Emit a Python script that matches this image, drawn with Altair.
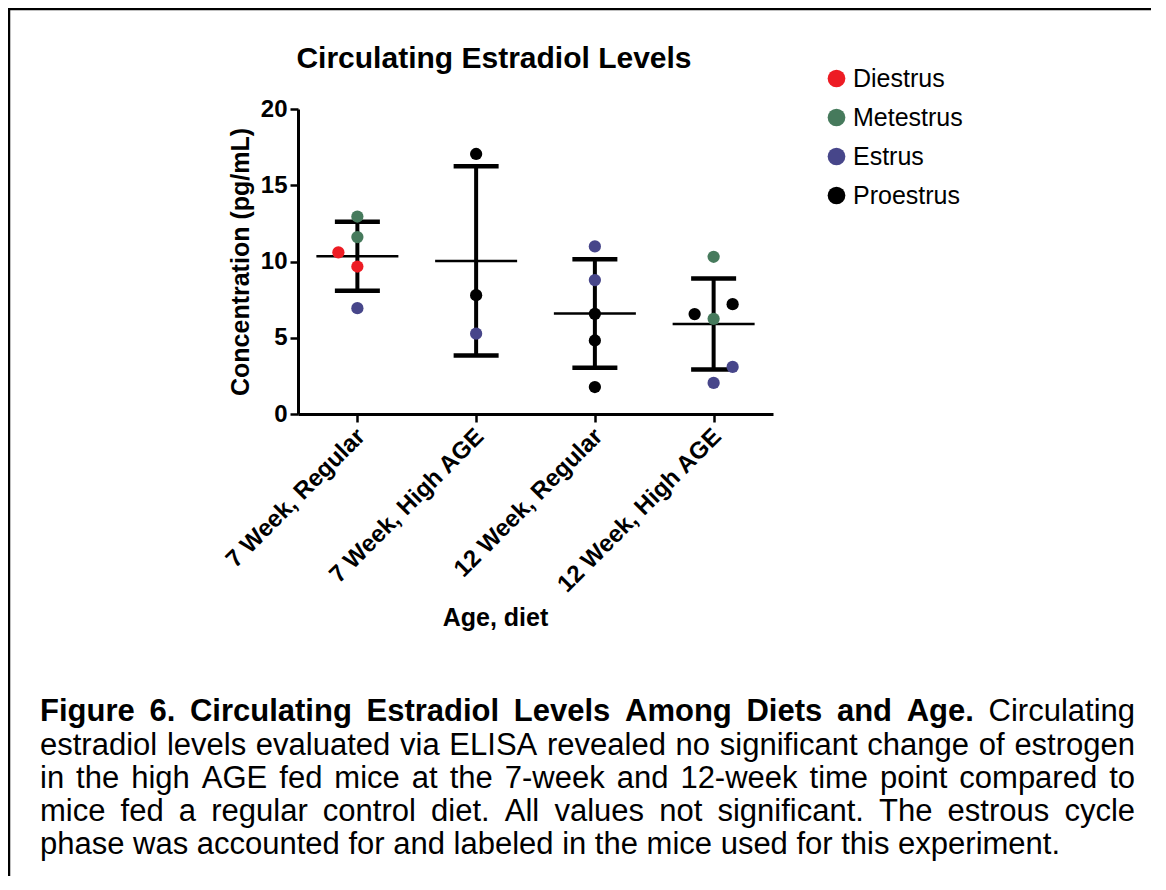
import json
import altair as alt
import pandas as pd

# ---------------- data ----------------
groups = ["7 Week, Regular", "7 Week, High AGE", "12 Week, Regular", "12 Week, High AGE"]
phases = ["Diestrus", "Metestrus", "Estrus", "Proestrus"]
phase_colors = ["#ED1C24", "#467A5C", "#47468A", "#000000"]

point_group = ["7 Week, Regular"] * 5 + ["7 Week, High AGE"] * 3 + ["12 Week, Regular"] * 5 + ["12 Week, High AGE"] * 6
point_value = [12.95, 11.6, 10.6, 9.67, 6.94,
               17.05, 7.79, 5.27,
               10.99, 8.78, 6.57, 4.82, 1.77,
               10.31, 6.55, 7.2, 6.24, 3.09, 2.04]
point_phase = ["Metestrus", "Metestrus", "Diestrus", "Diestrus", "Estrus",
               "Proestrus", "Proestrus", "Estrus",
               "Estrus", "Estrus", "Proestrus", "Proestrus", "Proestrus",
               "Metestrus", "Proestrus", "Proestrus", "Metestrus", "Estrus", "Estrus"]
point_jitter = [0, 0, -1, 0, 0,
                0, 0, 0,
                0, 0, 0, 0, 0,
                0, -1, 1, 0, 1, 0]

chart_title = "Circulating Estradiol Levels"
x_title = "Age, diet"
y_title = "Concentration (pg/mL)"
y_ticks = [0, 5, 10, 15, 20]

caption_bold = "Figure 6. Circulating Estradiol Levels Among Diets and Age."
caption_first_tail = "Circulating"
caption_lines = [
    "estradiol levels evaluated via ELISA revealed no significant change of estrogen",
    "in the high AGE fed mice at the 7-week and 12-week time point compared to",
    "mice fed a regular control diet. All values not significant. The estrous cycle",
    "phase was accounted for and labeled in the mice used for this experiment.",
]

df = pd.DataFrame({
    "group": point_group,
    "value": point_value,
    "phase": point_phase,
    "jitter": point_jitter,
})

FONT = "Liberation Sans"
groups_js = json.dumps(groups)

# ---------------- caption layout (justified, Arial metrics) ----------------
REG = dict(zip("abcdefghijklmnopqrstuvwxyz",
               [556, 556, 500, 556, 556, 278, 556, 556, 222, 222, 500, 222, 833,
                556, 556, 556, 556, 333, 500, 278, 556, 500, 722, 500, 500, 500]))
REG.update(dict(zip("ABCDEFGHIJKLMNOPQRSTUVWXYZ",
                    [667, 667, 722, 722, 667, 611, 778, 722, 278, 500, 667, 556, 833,
                     722, 778, 667, 778, 722, 667, 611, 722, 667, 944, 667, 667, 611])))
BOLD = dict(zip("abcdefghijklmnopqrstuvwxyz",
                [556, 611, 556, 611, 556, 333, 611, 611, 278, 278, 556, 278, 889,
                 611, 611, 611, 611, 389, 556, 333, 611, 556, 778, 556, 556, 500]))
BOLD.update(dict(zip("ABCDEFGHIJKLMNOPQRSTUVWXYZ",
                     [722, 722, 722, 722, 667, 611, 778, 722, 278, 556, 722, 611, 833,
                      722, 778, 667, 778, 722, 667, 611, 722, 667, 944, 667, 667, 611])))
for tbl in (REG, BOLD):
    for ch in "0123456789":
        tbl[ch] = 556
    tbl.update({" ": 278, ".": 278, ",": 278, "-": 333})

CAP_SIZE = 31
CAP_LEFT = 40 - 298      # relative to the plot origin
CAP_RIGHT = 1135 - 298
CAP_BASE = [612, 646, 679, 712, 745]


def word_width(word, bold):
    tbl = BOLD if bold else REG
    return sum(tbl.get(c, 556) for c in word) / 1000.0 * CAP_SIZE


def layout_line(words, y, justify):
    # words: list of (text, bold)
    widths = [word_width(w, b) for w, b in words]
    if justify and len(words) > 1:
        gap = (CAP_RIGHT - CAP_LEFT - sum(widths)) / (len(words) - 1)
    else:
        gap = 0.278 * CAP_SIZE
    rows, x = [], CAP_LEFT
    for (w, b), wd in zip(words, widths):
        rows.append({"word": w, "bold": b, "px": x, "py": y})
        x += wd + gap
    return rows


cap_rows = []
first = [(w, True) for w in caption_bold.split()] + [(caption_first_tail, False)]
cap_rows += layout_line(first, CAP_BASE[0], True)
for i, line in enumerate(caption_lines):
    last = i == len(caption_lines) - 1
    cap_rows += layout_line([(w, False) for w in line.split()], CAP_BASE[i + 1], not last)
cap_df = pd.DataFrame(cap_rows)

# ---------------- axes ----------------
x_axis = alt.Axis(
    values=[1, 2, 3, 4],
    labelExpr=f"{groups_js}[datum.value - 1]",
    labelAngle=-45,
    labelAlign="right",
    labelBaseline="top",
    labelFont=FONT,
    labelFontSize=24,
    labelFontWeight="bold",
    labelColor="black",
    labelPadding=2,
    labelOffset=-5,
    labelLimit=400,
    labelOverlap=False,
    title=x_title,
    titleFont=FONT,
    titleFontSize=25,
    titleFontWeight="bold",
    titleColor="black",
    titleX=197,
    titleY=211,
    titleAlign="center",
    titleBaseline="alphabetic",
    domainColor="black",
    domainWidth=3,
    tickColor="black",
    tickWidth=2.5,
    tickSize=8,
    grid=False,
)

y_axis = alt.Axis(
    values=y_ticks,
    labelFont=FONT,
    labelFontSize=24,
    labelFontWeight="bold",
    labelColor="black",
    labelPadding=3,
    title=y_title,
    titleFont=FONT,
    titleFontSize=25,
    titleFontWeight="bold",
    titleColor="black",
    titleX=-50,
    titleY=152.5,
    titleAngle=270,
    titleAlign="center",
    titleBaseline="alphabetic",
    domainColor="black",
    domainWidth=3,
    tickColor="black",
    tickWidth=2.5,
    tickSize=8,
    grid=False,
)

x_scale = alt.Scale(domain=[0.5, 4.5], nice=False, zero=False)
y_scale = alt.Scale(domain=[0, 20], nice=False)

base = alt.Chart(df).transform_calculate(
    gidx=f"indexof({groups_js}, datum.group) + 1"
)

stats = base.transform_aggregate(
    mean="mean(value)", sd="stdev(value)", groupby=["gidx"]
).transform_calculate(
    lo="datum.mean - datum.sd", hi="datum.mean + datum.sd"
)

err_rule = stats.mark_rule(color="black", strokeWidth=4, opacity=1).encode(
    x=alt.X("gidx:Q", scale=x_scale, axis=x_axis),
    y=alt.Y("lo:Q", scale=y_scale, axis=y_axis),
    y2="hi:Q",
)
cap_hi = stats.mark_tick(color="black", orient="horizontal", size=45, thickness=4.5, opacity=1).encode(
    x=alt.X("gidx:Q", scale=x_scale), y=alt.Y("hi:Q", scale=y_scale)
)
cap_lo = stats.mark_tick(color="black", orient="horizontal", size=45, thickness=4.5, opacity=1).encode(
    x=alt.X("gidx:Q", scale=x_scale), y=alt.Y("lo:Q", scale=y_scale)
)
mean_tick = stats.mark_tick(color="black", orient="horizontal", size=82, thickness=2.5, opacity=1).encode(
    x=alt.X("gidx:Q", scale=x_scale), y=alt.Y("mean:Q", scale=y_scale)
)

points = base.transform_calculate(
    xpos="datum.gidx + datum.jitter * 0.16"
).mark_circle(size=150, opacity=1).encode(
    x=alt.X("xpos:Q", scale=x_scale),
    y=alt.Y("value:Q", scale=y_scale),
    color=alt.Color(
        "phase:N",
        scale=alt.Scale(domain=phases, range=phase_colors),
        legend=alt.Legend(
            title=None,
            orient="none",
            legendX=526,
            legendY=-43,
            padding=0,
            symbolType="circle",
            symbolSize=314,
            symbolStrokeWidth=0,
            symbolOpacity=1,
            labelFont=FONT,
            labelFontSize=25,
            labelColor="black",
            labelOffset=4,
            rowPadding=13,
            labelLimit=300,
        ),
    ),
)

one = alt.Data(values=[{"k": 1}])

title_layer = alt.Chart(one).mark_text(
    text=chart_title, font=FONT, fontSize=30, fontWeight="bold", align="center",
    baseline="alphabetic", color="black",
).encode(x=alt.value(196), y=alt.value(-41))


def caption_layer(bold):
    return alt.Chart(cap_df).transform_filter(
        "datum.bold" if bold else "!datum.bold"
    ).mark_text(
        font=FONT, fontSize=CAP_SIZE, fontWeight="bold" if bold else "normal",
        align="left", baseline="alphabetic", color="black",
    ).encode(
        x=alt.X("px:Q", scale=None, axis=None),
        y=alt.Y("py:Q", scale=None, axis=None),
        text="word:N",
    )


border = alt.Chart(one).mark_rect(filled=False, stroke="black", strokeWidth=2.5).encode(
    x=alt.value(-289), x2=alt.value(950), y=alt.value(-100), y2=alt.value(900)
)

chart = alt.layer(
    border, err_rule, cap_hi, cap_lo, mean_tick, points, title_layer,
    caption_layer(True), caption_layer(False)
).properties(
    width=475,
    height=305,
    background="white",
    autosize=alt.AutoSizeParams(type="none"),
    padding={"left": 290, "top": 101, "right": 378, "bottom": 462},
).configure_view(stroke=None)

chart.save("out.html", embed_options={"renderer": "svg", "actions": False})
